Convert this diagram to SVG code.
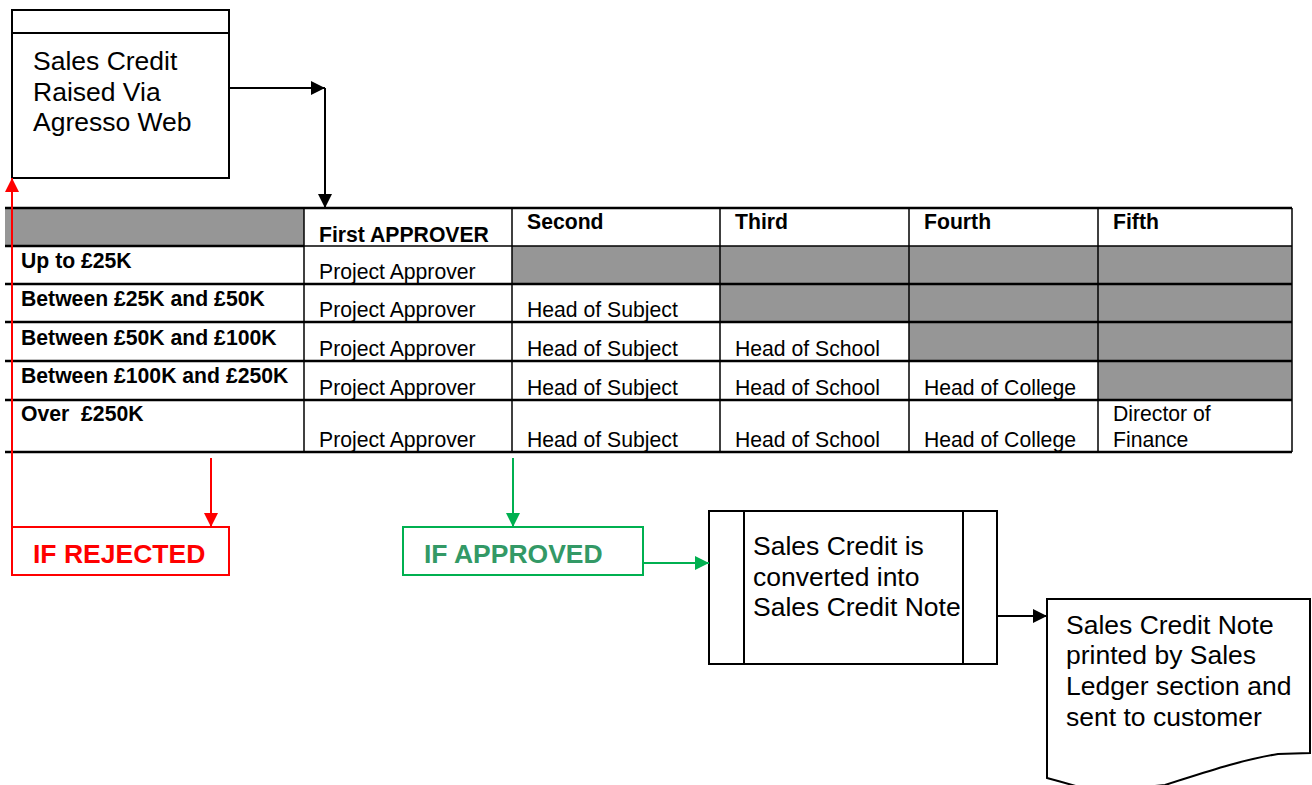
<svg xmlns="http://www.w3.org/2000/svg" width="1312" height="785" viewBox="0 0 1312 785">
  <style>
    .box { fill: #ffffff; stroke: #000000; stroke-width: 2; }
    .big { font-family: "Liberation Sans", Arial, sans-serif; font-size: 26.5px; fill: #000000; }
    .hdr { font-family: "Liberation Sans", Arial, sans-serif; font-size: 21.2px; font-weight: bold; fill: #000000; white-space: pre; }
    .cell { font-family: "Liberation Sans", Arial, sans-serif; font-size: 21.2px; fill: #000000; }
    .flag { font-family: "Liberation Sans", Arial, sans-serif; font-size: 26.5px; font-weight: bold; }
    .grey { fill: #969696; stroke: none; }
    .grid { stroke: #000000; stroke-width: 1.5; fill: none; }
    .gridb { stroke: #000000; stroke-width: 2.5; fill: none; }
    .black { stroke: #000000; stroke-width: 2; fill: none; }
    .red { stroke: #ff0000; stroke-width: 2; fill: none; }
    .green { stroke: #00b050; stroke-width: 2; fill: none; }
  </style>
  <defs>
    <marker id="arrBlack" markerUnits="userSpaceOnUse" markerWidth="16" markerHeight="14" refX="14" refY="7" orient="auto">
      <path d="M0,0 L14,7 L0,14 Z" fill="#000000"/>
    </marker>
    <marker id="arrRed" markerUnits="userSpaceOnUse" markerWidth="16" markerHeight="14" refX="14" refY="7" orient="auto">
      <path d="M0,0 L14,7 L0,14 Z" fill="#ff0000"/>
    </marker>
    <marker id="arrGreen" markerUnits="userSpaceOnUse" markerWidth="16" markerHeight="14" refX="14" refY="7" orient="auto">
      <path d="M0,0 L14,7 L0,14 Z" fill="#00b050"/>
    </marker>
  </defs>

  <rect width="1312" height="785" fill="#ffffff"/>

  <!-- Start: credit raised -->
  <g id="node-raised">
    <rect class="box" x="12" y="10" width="217" height="168"/>
    <line class="black" x1="12" y1="33" x2="229" y2="33"/>
    <text class="big" x="33" y="70">Sales Credit</text>
    <text class="big" x="33" y="101">Raised Via</text>
    <text class="big" x="33" y="131">Agresso Web</text>
  </g>

  <!-- Approval limits table -->
  <g id="node-table">
    <!-- shaded cells -->
    <rect class="grey" x="5" y="209" width="299" height="37"/>
    <rect class="grey" x="512" y="246" width="780" height="38"/>
    <rect class="grey" x="720" y="284" width="572" height="38"/>
    <rect class="grey" x="909" y="322" width="383" height="39"/>
    <rect class="grey" x="1098" y="361" width="194" height="39"/>

    <!-- row rules -->
    <line class="gridb" x1="5" y1="208" x2="1292" y2="208"/>
    <line class="gridb" x1="5" y1="246" x2="304" y2="246"/>
    <line class="grid" x1="304" y1="246" x2="1292" y2="246"/>
    <line class="gridb" x1="5" y1="284" x2="1292" y2="284"/>
    <line class="gridb" x1="5" y1="322" x2="1292" y2="322"/>
    <line class="gridb" x1="5" y1="361" x2="1292" y2="361"/>
    <line class="gridb" x1="5" y1="400" x2="1292" y2="400"/>
    <line class="gridb" x1="5" y1="452" x2="1292" y2="452"/>

    <!-- column rules -->
    <line class="grid" x1="304" y1="208" x2="304" y2="452"/>
    <line class="grid" x1="512" y1="208" x2="512" y2="452"/>
    <line class="grid" x1="720" y1="208" x2="720" y2="452"/>
    <line class="grid" x1="909" y1="208" x2="909" y2="452"/>
    <line class="grid" x1="1098" y1="208" x2="1098" y2="452"/>
    <line class="grid" x1="1292" y1="208" x2="1292" y2="452"/>

    <!-- header -->
    <text class="hdr" x="319" y="242">First APPROVER</text>
    <text class="hdr" x="527" y="229">Second</text>
    <text class="hdr" x="735" y="229">Third</text>
    <text class="hdr" x="924" y="229">Fourth</text>
    <text class="hdr" x="1113" y="229">Fifth</text>

    <!-- row labels -->
    <text class="hdr" x="21" y="268">Up to £25K</text>
    <text class="hdr" x="21" y="306">Between £25K and £50K</text>
    <text class="hdr" x="21" y="345">Between £50K and £100K</text>
    <text class="hdr" x="21" y="383">Between £100K and £250K</text>
    <text class="hdr" x="21" y="421" xml:space="preserve">Over  £250K</text>

    <!-- approvers -->
    <text class="cell" x="319" y="279">Project Approver</text>

    <text class="cell" x="319" y="317">Project Approver</text>
    <text class="cell" x="527" y="317">Head of Subject</text>

    <text class="cell" x="319" y="356">Project Approver</text>
    <text class="cell" x="527" y="356">Head of Subject</text>
    <text class="cell" x="735" y="356">Head of School</text>

    <text class="cell" x="319" y="395">Project Approver</text>
    <text class="cell" x="527" y="395">Head of Subject</text>
    <text class="cell" x="735" y="395">Head of School</text>
    <text class="cell" x="924" y="395">Head of College</text>

    <text class="cell" x="319" y="447">Project Approver</text>
    <text class="cell" x="527" y="447">Head of Subject</text>
    <text class="cell" x="735" y="447">Head of School</text>
    <text class="cell" x="924" y="447">Head of College</text>
    <text class="cell" x="1113" y="421">Director of</text>
    <text class="cell" x="1113" y="447">Finance</text>
  </g>

  <!-- Outcome: rejected -->
  <g id="node-rejected">
    <rect x="12" y="527" width="217" height="48" fill="#ffffff" stroke="#ff0000" stroke-width="2"/>
    <text class="flag" x="33" y="563" fill="#ff0000">IF REJECTED</text>
  </g>

  <!-- Outcome: approved -->
  <g id="node-approved">
    <rect x="403" y="527" width="240" height="48" fill="#ffffff" stroke="#00b050" stroke-width="2"/>
    <text class="flag" x="424" y="563" fill="#339966">IF APPROVED</text>
  </g>

  <!-- Conversion process -->
  <g id="node-convert">
    <rect class="box" x="709" y="511" width="288" height="153"/>
    <line class="black" x1="744" y1="511" x2="744" y2="664"/>
    <line class="black" x1="963" y1="511" x2="963" y2="664"/>
    <text class="big" x="753" y="555">Sales Credit is</text>
    <text class="big" x="753" y="586">converted into</text>
    <text class="big" x="753" y="616">Sales Credit Note</text>
  </g>

  <!-- Printed document -->
  <g id="node-document">
    <path class="box" d="M1047,599 L1310,599 L1310,753 L1278,754 C1240,760 1200,774 1165,785 L1095,792 C1080,787 1062,782 1047,778 Z"/>
    <text class="big" x="1066" y="634">Sales Credit Note</text>
    <text class="big" x="1066" y="664">printed by Sales</text>
    <text class="big" x="1066" y="695">Ledger section and</text>
    <text class="big" x="1066" y="726">sent to customer</text>
  </g>

  <!-- Connectors -->
  <g id="connectors">
    <path class="black" d="M229,88 L325,88" marker-end="url(#arrBlack)"/>
    <path class="black" d="M325,88 L325,208" marker-end="url(#arrBlack)"/>
    <path class="red" d="M12,527 L12,178" marker-end="url(#arrRed)"/>
    <path class="red" d="M211,458 L211,527" marker-end="url(#arrRed)"/>
    <path class="green" d="M513,458 L513,527" marker-end="url(#arrGreen)"/>
    <path class="green" d="M643,563 L709,563" marker-end="url(#arrGreen)"/>
    <path class="black" d="M997,616 L1047,616" marker-end="url(#arrBlack)"/>
  </g>
</svg>
